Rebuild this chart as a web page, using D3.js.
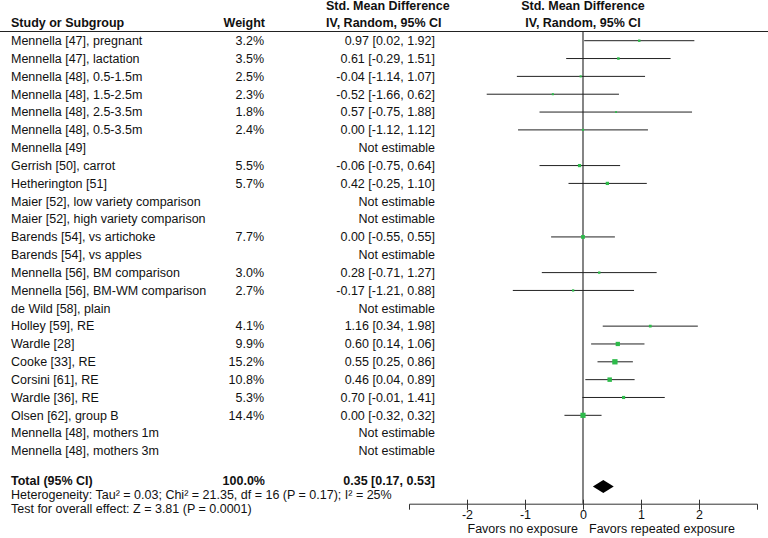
<!DOCTYPE html>
<html>
<head>
<meta charset="utf-8">
<script src="https://cdn.jsdelivr.net/npm/d3@7"></script>
<style>
  body { margin: 0; background: #fff; }
  svg text { font-family: Arial, "Liberation Sans", sans-serif; font-size: 12.5px; fill: #111; }
  .bold { font-weight: bold; }
</style>
</head>
<body>
<div id="chart"></div>
<script>
// study rows (null = not estimable)
const studies = [
  "Mennella [47], pregnant", "Mennella [47], lactation", "Mennella [48], 0.5-1.5m",
  "Mennella [48], 1.5-2.5m", "Mennella [48], 2.5-3.5m", "Mennella [48], 0.5-3.5m",
  "Mennella [49]", "Gerrish [50], carrot", "Hetherington [51]",
  "Maier [52], low variety comparison", "Maier [52], high variety comparison",
  "Barends [54], vs artichoke", "Barends [54], vs apples", "Mennella [56], BM comparison",
  "Mennella [56], BM-WM comparison", "de Wild [58], plain", "Holley [59], RE",
  "Wardle [28]", "Cooke [33], RE", "Corsini [61], RE", "Wardle [36], RE",
  "Olsen [62], group B", "Mennella [48], mothers 1m", "Mennella [48], mothers 3m"
];
const weights = [3.2, 3.5, 2.5, 2.3, 1.8, 2.4, null, 5.5, 5.7, null, null, 7.7, null, 3.0,
  2.7, null, 4.1, 9.9, 15.2, 10.8, 5.3, 14.4, null, null];
const smd = [0.97, 0.61, -0.04, -0.52, 0.57, 0.00, null, -0.06, 0.42, null, null, 0.00, null, 0.28,
  -0.17, null, 1.16, 0.60, 0.55, 0.46, 0.70, 0.00, null, null];
const lower = [0.02, -0.29, -1.14, -1.66, -0.75, -1.12, null, -0.75, -0.25, null, null, -0.55, null, -0.71,
  -1.21, null, 0.34, 0.14, 0.25, 0.04, -0.01, -0.32, null, null];
const upper = [1.92, 1.51, 1.07, 0.62, 1.88, 1.12, null, 0.64, 1.10, null, null, 0.55, null, 1.27,
  0.88, null, 1.98, 1.06, 0.86, 0.89, 1.41, 0.32, null, null];
const total = { weight: 100.0, est: 0.35, lo: 0.17, hi: 0.53 };
const axisTicks = [-2, -1, 0, 1, 2];
const footnotes = [
  "Heterogeneity: Tau\u00b2 = 0.03; Chi\u00b2 = 21.35, df = 16 (P = 0.17); I\u00b2 = 25%",
  "Test for overall effect: Z = 3.81 (P = 0.0001)"
];

const width = 768, height = 538;
const svg = d3.select("#chart").append("svg")
  .attr("width", width).attr("height", height);

const x = d3.scaleLinear().domain([-3, 3]).range([409, 757]);
const y = d3.scaleLinear().domain([0, studies.length - 1]).range([40.7, 451]);
const size = d3.scaleSqrt().domain([0, 15.2]).range([0, 5.3]);
const totalY = 481, axisY = 503.7;
// plain hyphen for minus, like the original
const locale = d3.formatLocale({ decimal: ".", thousands: ",", grouping: [3], currency: ["", ""], minus: "-" });
const fmt = locale.format(".2f");

// headers
svg.append("text").attr("class", "bold").attr("x", 11).attr("y", 27).text("Study or Subgroup");
svg.append("text").attr("class", "bold").attr("x", 265).attr("y", 27)
  .attr("text-anchor", "end").text("Weight");
svg.append("text").attr("class", "bold").attr("x", 326).attr("y", 10).text("Std. Mean Difference");
svg.append("text").attr("class", "bold").attr("x", 326).attr("y", 27).text("IV, Random, 95% CI");
svg.append("text").attr("class", "bold").attr("x", x(0)).attr("y", 10)
  .attr("text-anchor", "middle").text("Std. Mean Difference");
svg.append("text").attr("class", "bold").attr("x", x(0)).attr("y", 27)
  .attr("text-anchor", "middle").text("IV, Random, 95% CI");
svg.append("line").attr("x1", 0).attr("x2", 768).attr("y1", 31.5).attr("y2", 31.5)
  .attr("stroke", "#222").attr("stroke-width", 1);

// zero line
svg.append("line").attr("x1", x(0)).attr("x2", x(0)).attr("y1", 32).attr("y2", axisY)
  .attr("stroke", "#666").attr("stroke-width", 1.6);

const rows = svg.selectAll("g.row").data(studies).enter().append("g").attr("class", "row");
rows.append("text").attr("x", 11).attr("y", (d, i) => y(i) + 4.3).text(d => d);
rows.append("text").attr("x", 264).attr("y", (d, i) => y(i) + 4.3).attr("text-anchor", "end")
  .text((d, i) => weights[i] == null ? "" : weights[i].toFixed(1) + "%");
rows.append("text").attr("x", 435).attr("y", (d, i) => y(i) + 4.3).attr("text-anchor", "end")
  .text((d, i) => smd[i] == null ? "Not estimable"
    : fmt(smd[i]) + " [" + fmt(lower[i]) + ", " + fmt(upper[i]) + "]");

const est = studies.map((d, i) => i).filter(i => smd[i] != null);
svg.selectAll("line.ci").data(est).enter().append("line").attr("class", "ci")
  .attr("x1", i => x(lower[i])).attr("x2", i => x(upper[i]))
  .attr("y1", i => y(i)).attr("y2", i => y(i))
  .attr("stroke", "#222").attr("stroke-width", 1);
svg.selectAll("rect.pt").data(est).enter().append("rect").attr("class", "pt")
  .attr("x", i => x(smd[i]) - size(weights[i]) / 2)
  .attr("y", i => y(i) - size(weights[i]) / 2)
  .attr("width", i => size(weights[i])).attr("height", i => size(weights[i]))
  .attr("fill", "#2dbb4a");

// total row
svg.append("text").attr("class", "bold").attr("x", 11).attr("y", totalY + 4.3).text("Total (95% CI)");
svg.append("text").attr("class", "bold").attr("x", 265).attr("y", totalY + 4.3)
  .attr("text-anchor", "end").text(total.weight.toFixed(1) + "%");
svg.append("text").attr("class", "bold").attr("x", 435).attr("y", totalY + 4.3)
  .attr("text-anchor", "end")
  .text(fmt(total.est) + " [" + fmt(total.lo) + ", " + fmt(total.hi) + "]");
const dy = totalY + 5.5;
svg.append("path")
  .attr("d", `M${x(total.lo)},${dy} L${x(total.est)},${dy - 6.5} L${x(total.hi)},${dy} L${x(total.est)},${dy + 6.5} Z`)
  .attr("fill", "#000");

svg.selectAll("text.foot").data(footnotes).enter().append("text").attr("class", "foot")
  .attr("x", 11).attr("y", (d, i) => 499.3 + i * 13.4).text(d => d);

// axis
const ax = svg.append("g").attr("transform", `translate(0,${axisY})`)
  .call(d3.axisBottom(x).tickValues(axisTicks).tickSizeOuter(0).tickSize(6)
    .tickFormat(locale.format("d")));
ax.select(".domain").attr("stroke", "#333");
ax.selectAll(".tick line").attr("y1", -4).attr("y2", 6).attr("stroke", "#333");
ax.selectAll(".tick text").attr("y", 6).style("font-size", "12.5px").attr("fill", "#111")
  .style("font-family", "Arial, 'Liberation Sans', sans-serif");

svg.append("text").attr("x", x(0) - 5).attr("y", 533).attr("text-anchor", "end").text("Favors no exposure");
svg.append("text").attr("x", x(0) + 6).attr("y", 533).text("Favors repeated exposure");
</script>
</body>
</html>
